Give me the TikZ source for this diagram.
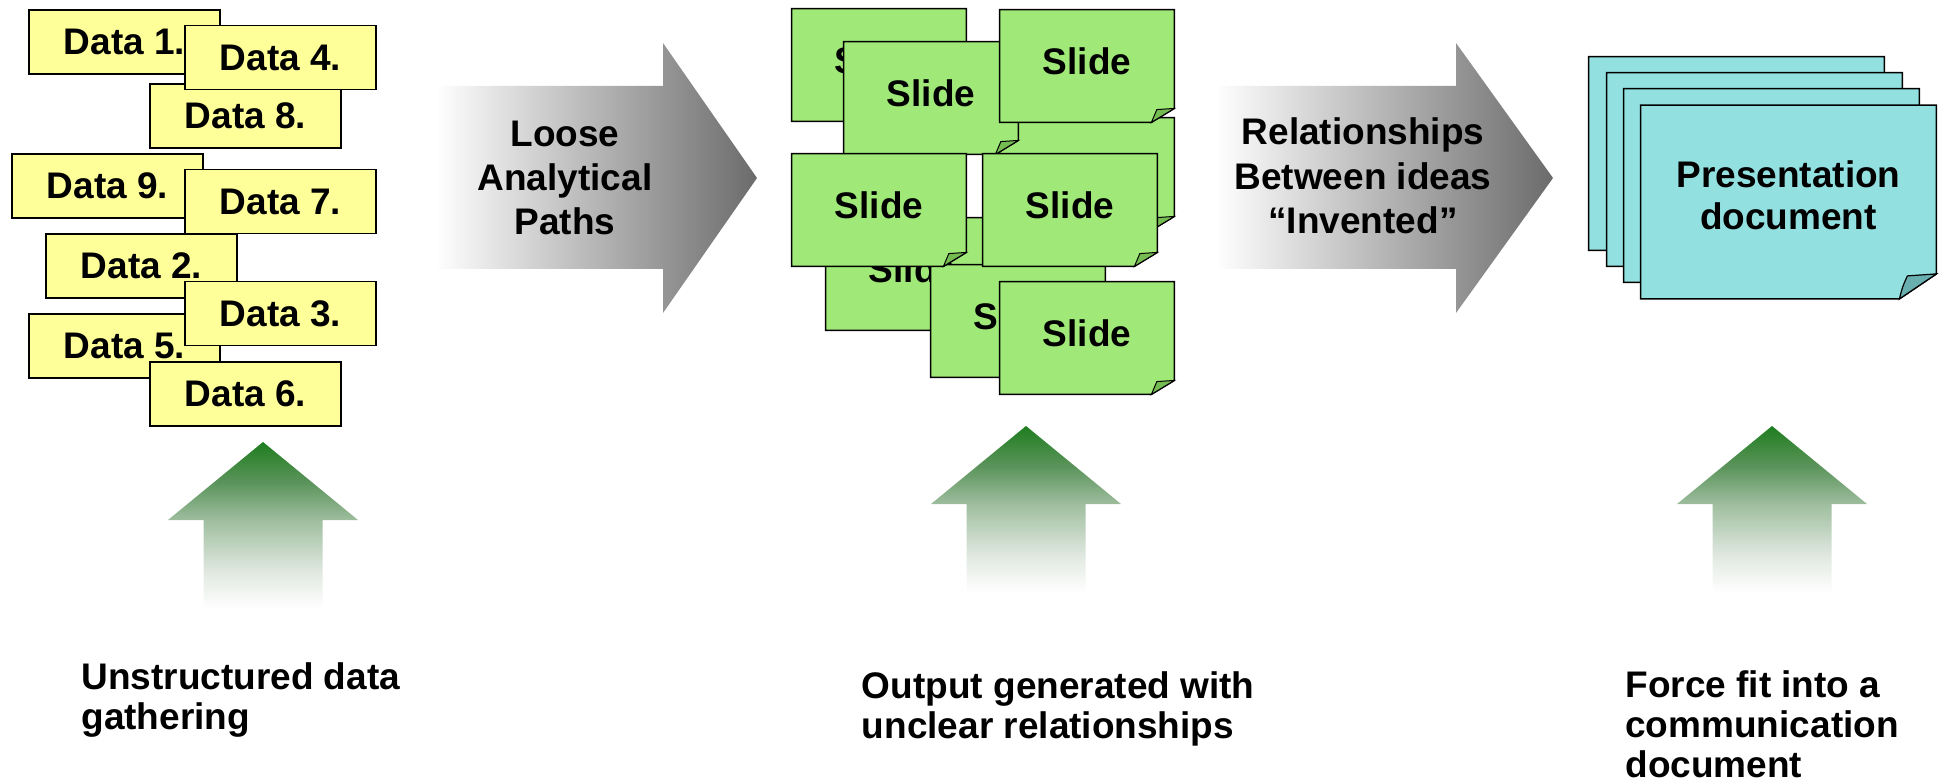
\documentclass[tikz,border=0pt]{standalone}
\usepackage{fontspec}
\setmainfont{Liberation Sans}
\usetikzlibrary{calc}

\definecolor{datayellow}{HTML}{FFFF99}
\definecolor{slidegreen}{HTML}{A0E878}
\definecolor{slidefold}{HTML}{74BC52}
\definecolor{doccyan}{HTML}{93E0E0}
\definecolor{docfold}{HTML}{6AAFAF}
\definecolor{flowend}{rgb}{0.42,0.42,0.42}
\definecolor{rise1}{rgb}{0.12,0.49,0.12}
\definecolor{rise2}{rgb}{0.36,0.58,0.36}
\definecolor{rise3}{rgb}{0.63,0.75,0.63}
\definecolor{rise4}{rgb}{0.88,0.91,0.88}

% grey flow arrows: white tail fading to grey tip
\pgfdeclarehorizontalshading{flowgray}{100bp}{color(0bp)=(white); color(25bp)=(white); color(75bp)=(flowend); color(100bp)=(flowend)}
% green up arrows: dark green tip fading to white tail
\pgfdeclareverticalshading{greenrise}{100bp}{color(0bp)=(white); color(30bp)=(white); color(40bp)=(rise4); color(53.5bp)=(rise3); color(64bp)=(rise2); color(75bp)=(rise1); color(100bp)=(rise1)}

\tikzset{
  boldtext/.style={font=\bfseries\fontsize{18.5}{21}\selectfont},
  databox/.style={boldtext, draw=black, line width=0.75pt, fill=datayellow,
    minimum width=95.5pt, minimum height=32pt, inner sep=0pt},
  cardline/.style={draw=black, line width=0.75pt},
  slideframe/.style={inner sep=0pt, minimum width=87pt, minimum height=56pt},
  docframe/.style={inner sep=0pt, minimum width=147.5pt, minimum height=96.5pt},
  cardtext/.style={boldtext, inner sep=0pt, align=center},
  flowtext/.style={font=\bfseries\fontsize{18.5}{22.2}\selectfont, inner sep=0pt, align=center},
  notetext/.style={font=\bfseries\fontsize{18.5}{20}\selectfont, inner sep=0pt, align=left, anchor=north west},
}

% green slide with a curled bottom-right corner
\newcommand{\slidecard}[4]{%
  \node[slideframe] (#1) at (#2,#3) {};
  \filldraw[cardline, fill=slidegreen] (#1.north west) -- (#1.north east)
    -- ([yshift=7pt]#1.south east) -- ([xshift=-11.5pt]#1.south east)
    -- (#1.south west) -- cycle;
  \filldraw[cardline, line width=0.5pt, fill=slidefold] ([xshift=-11.5pt]#1.south east)
    .. controls ([xshift=-10.5pt,yshift=3.5pt]#1.south east) .. ([xshift=-8.8pt,yshift=6.4pt]#1.south east)
    -- ([yshift=7pt]#1.south east) -- cycle;
  \node[cardtext] (#1t) at ([yshift=2.5pt]#1.center) {#4};
}

% cyan document page with a curled bottom-right corner
\newcommand{\docpage}[4]{%
  \node[docframe] (#1) at (#2,#3) {};
  \filldraw[cardline, fill=doccyan] (#1.north west) -- (#1.north east)
    -- ([yshift=12.5pt]#1.south east) -- ([xshift=-18.5pt]#1.south east)
    -- (#1.south west) -- cycle;
  \filldraw[cardline, line width=0.6pt, fill=docfold] ([xshift=-18.5pt]#1.south east)
    .. controls ([xshift=-17pt,yshift=6pt]#1.south east) .. ([xshift=-14.5pt,yshift=11.5pt]#1.south east)
    -- ([yshift=12.5pt]#1.south east) -- cycle;
  \node[cardtext] (#1t) at ([yshift=3.5pt]#1.center) {#4};
}

% green upward arrow, given by its tip
\newcommand{\risearrow}[2]{%
  \shade[shading=greenrise] (#1,#2) -- ++(95,78) -- ++(-35.5,0) -- ++(0,107)
    -- ++(-119,0) -- ++(0,-107) -- ++(-35.5,0) -- cycle;
}

\begin{document}
\begin{tikzpicture}[x=0.5pt, y=-0.5pt]
\useasboundingbox (0,0) rectangle (1942,780);

% scattered data notes
\node[databox] (d1) at (124.5,42)  {Data 1.};
\node[databox] (d8) at (245.5,116) {Data 8.};
\node[databox] (d4) at (280.5,57.5) {Data 4.};
\node[databox] (d9) at (107.5,186) {Data 9.};
\node[databox] (d7) at (280.5,201.5) {Data 7.};
\node[databox] (d2) at (141.5,266) {Data 2.};
\node[databox] (d5) at (124.5,346) {Data 5.};
\node[databox] (d3) at (280.5,313.5) {Data 3.};
\node[databox] (d6) at (245.5,394) {Data 6.};

% first flow arrow
\shade[shading=flowgray] (435,86) -- (663,86) -- (663,43) -- (757,178)
  -- (663,313) -- (663,269) -- (435,269) -- cycle;
\node[flowtext] (loose) at (565,178) {Loose\\Analytical\\Paths};

% pile of slides
\slidecard{s1}{879}{65}{Slide}
\slidecard{s7}{913}{274}{Slide}
\slidecard{s4}{1087}{174}{Slide}
\slidecard{s2}{931}{98}{Slide}
\slidecard{s3}{1087}{66}{Slide}
\slidecard{s8}{1018}{321}{Slide}
\slidecard{s5}{879}{210}{Slide}
\slidecard{s6}{1070}{210}{Slide}
\slidecard{s9}{1087}{338}{Slide}

% second flow arrow
\shade[shading=flowgray] (1215,86) -- (1456,86) -- (1456,43) -- (1553,178)
  -- (1456,313) -- (1456,269) -- (1215,269) -- cycle;
\node[flowtext] (invented) at (1363,176) {Relationships\\Between ideas\\“Invented”};

% stacked presentation pages
\docpage{p1}{1736.5}{153.5}{}
\docpage{p2}{1754.5}{169.5}{}
\docpage{p3}{1771.5}{185.5}{}
\docpage{p4}{1788.5}{202}{Presentation\\document}

% upward arrows
\risearrow{263}{442}
\risearrow{1026}{426}
\risearrow{1772}{426}

% captions
\node[notetext] (n1) at (81,662) {Unstructured data\\gathering};
\node[notetext] (n2) at (861.5,671) {Output generated with\\unclear relationships};
\node[notetext] (n3) at (1625,670) {Force fit into a\\communication\\document};
\end{tikzpicture}
\end{document}
